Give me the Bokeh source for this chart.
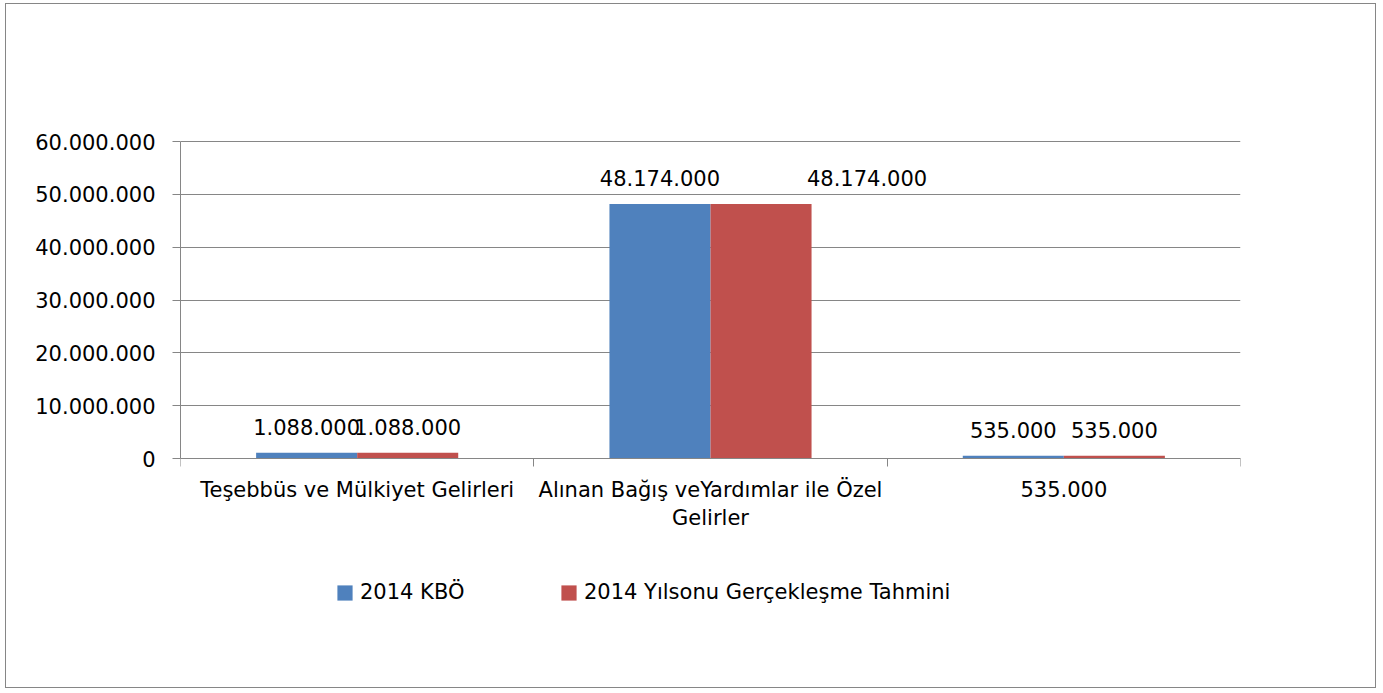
from bokeh.plotting import figure
from bokeh.models import (Range1d, LinearAxis, FixedTicker,
                          ColumnDataSource, LabelSet, Legend, LegendItem)
from bokeh.core.properties import value
from bokeh.transform import dodge
from bokeh.embed import file_html
from bokeh.resources import INLINE

categories = ["Teşebbüs ve Mülkiyet Gelirleri",
              "Alınan Bağış veYardımlar ile Özel\nGelirler",
              "535.000"]
series_names = ["2014 KBÖ", "2014 Yılsonu Gerçekleşme Tahmini"]
kbo = [1088000, 48174000, 535000]
tahmin = [1088000, 48174000, 535000]
y_ticks = [0, 10000000, 20000000, 30000000, 40000000, 50000000, 60000000]
y_tick_labels = ["0", "10.000.000", "20.000.000", "30.000.000", "40.000.000", "50.000.000", "60.000.000"]

BLUE = "#4F81BD"
RED = "#C0504D"
GRID = "#868686"
FONT = "DejaVu Sans"
FS = "21px"

# layout (canvas pixels)
W, H = 1371, 685
FRAME_LEFT, FRAME_RIGHT = 174, 1234
FRAME_TOP, TOP_TICK_Y, ZERO_Y, FRAME_BOTTOM = 130, 137, 454, 613
Y_MAX = 60000000
PER_PX = Y_MAX / (ZERO_Y - TOP_TICK_Y)
# frame extends a little above the top tick and below the zero line (legend sits inside it)
Y_END = Y_MAX + (TOP_TICK_Y - FRAME_TOP) * PER_PX
Y_START = -(FRAME_BOTTOM - ZERO_Y) * PER_PX

def fmt(v):
    return f"{v:,}".replace(",", ".")

n = len(categories)
centers = [i + 0.5 for i in range(n)]          # category slot centres on the x scale
bounds = list(range(n + 1))                     # category slot boundaries
src = ColumnDataSource(dict(
    pos=centers, kbo=kbo, tahmin=tahmin,
    kbo_lbl=[fmt(v) for v in kbo], tahmin_lbl=[fmt(v) for v in tahmin],
))
# label shift (style): the second red label sits to the right in the original
src.data["tahmin_dx"] = [0, 106, 0]

p = figure(width=W, height=H, x_range=Range1d(0, n),
           y_range=Range1d(Y_START, Y_END), output_backend="svg", toolbar_location=None,
           x_axis_type=None, min_border_left=FRAME_LEFT, min_border_right=W - FRAME_RIGHT,
           min_border_top=FRAME_TOP, min_border_bottom=H - FRAME_BOTTOM)
p.styles = {"border": "1px solid #868686", "margin-left": "5px", "margin-top": "3px"}
p.outline_line_color = None
p.background_fill_color = "white"
p.border_fill_color = "white"

p.xgrid.visible = False
p.ygrid.ticker = FixedTicker(ticks=y_ticks)
p.ygrid.grid_line_color = GRID

ya = p.yaxis[0]
ya.ticker = FixedTicker(ticks=y_ticks)
ya.bounds = (0, Y_MAX)
ya.major_label_overrides = {t: l for t, l in zip(y_ticks, y_tick_labels)}
ya.axis_line_color = GRID
ya.major_tick_line_color = GRID
ya.major_tick_out = 8
ya.major_tick_in = 0
ya.minor_tick_line_color = None
ya.major_label_text_font = FONT
ya.major_label_text_font_size = FS
ya.major_label_text_color = "black"
ya.major_label_standoff = 17

cat_axis = LinearAxis(ticker=FixedTicker(ticks=centers, minor_ticks=bounds),
                      fixed_location=0,
                      major_label_overrides={c: lbl for c, lbl in zip(centers, categories)},
                      axis_line_color=GRID, major_tick_line_color=None,
                      major_tick_out=8, major_tick_in=0,
                      minor_tick_line_color=GRID, minor_tick_out=8, minor_tick_in=0,
                      major_label_text_font=FONT, major_label_text_font_size=FS,
                      major_label_text_color="black", major_label_standoff=11)
p.add_layout(cat_axis, "below")

bw = 0.286
r1 = p.vbar(x=dodge("pos", -bw / 2), top="kbo", width=bw, source=src,
            fill_color=BLUE, line_color=None)
r2 = p.vbar(x=dodge("pos", bw / 2), top="tahmin", width=bw, source=src,
            fill_color=RED, line_color=None)

l1 = LabelSet(x=dodge("pos", -bw / 2), y="kbo", text="kbo_lbl", source=src,
              text_align="center", text_baseline="alphabetic", y_offset=18,
              text_font=value(FONT), text_font_size=value(FS), text_color="black")
l2 = LabelSet(x=dodge("pos", bw / 2), y="tahmin", text="tahmin_lbl", source=src,
              x_offset="tahmin_dx",
              text_align="center", text_baseline="alphabetic", y_offset=18,
              text_font=value(FONT), text_font_size=value(FS), text_color="black")
p.add_layout(l1)
p.add_layout(l2)

legend = Legend(items=[LegendItem(label=series_names[0], renderers=[r1]),
                       LegendItem(label=series_names[1], renderers=[r2])],
                orientation="horizontal", location=(155, 13),
                glyph_width=19, glyph_height=19, label_standoff=6, label_width=199,
                spacing=0, padding=0, margin=0, border_line_color=None,
                background_fill_alpha=0, label_text_font=FONT, label_text_font_size=FS,
                label_text_color="black")
p.add_layout(legend, "center")

open("out.html", "w").write(file_html(p, INLINE))
